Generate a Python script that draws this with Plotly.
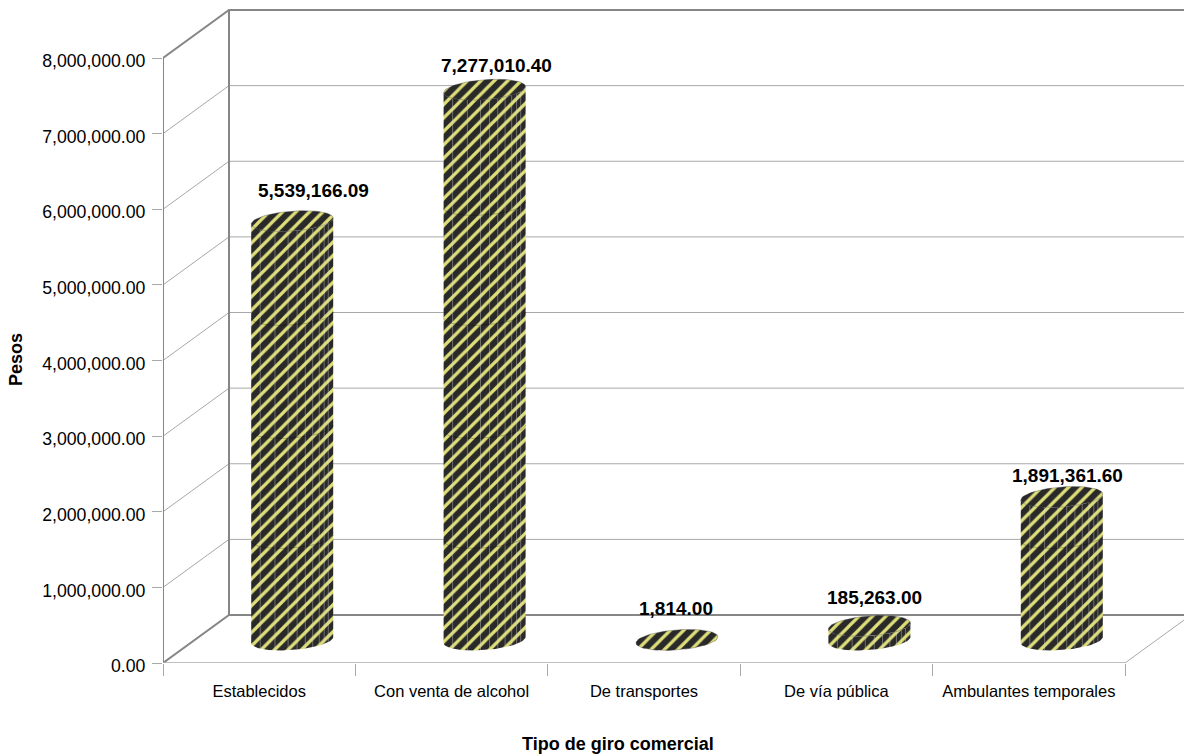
import numpy as np
import plotly.graph_objects as go

categories = ["Establecidos", "Con venta de alcohol", "De transportes", "De vía pública", "Ambulantes temporales"]
values = [5539166.09, 7277010.40, 1814.00, 185263.00, 1891361.60]
value_labels = ["5,539,166.09", "7,277,010.40", "1,814.00", "185,263.00", "1,891,361.60"]
y_ticks = [0, 1000000, 2000000, 3000000, 4000000, 5000000, 6000000, 7000000, 8000000]

# layout constants (pixels)
W, H = 1184, 754
L, T, B = 163, 9, 663
PX_PER_UNIT = 605 / 8000000
PX_PER_CAT = 192.4
DEPTH_X, DEPTH_Y = 66, 48
label_shift_x = [21, 12, -1, 5, 6]
label_shift_y = [31, 24, 31, 28, 21]
FG, BG = "#DEDE7A", "#292929"
WALL = "#868686"
GRID = "#A8A8A8"
# texture seams of the cylinder fill, in pixels above the cylinder base
seams_px = [102, 212, 325, 435]


def dxc(px):
    return px / PX_PER_CAT


def dyv(px):
    return px / PX_PER_UNIT


def P(cat, val, depth):
    return cat + dxc(DEPTH_X * depth), val + dyv(DEPTH_Y * depth)


fig = go.Figure()


def seg(points, color, width):
    xs, ys = zip(*points)
    fig.add_trace(go.Scatter(x=xs, y=ys, mode="lines", line=dict(color=color, width=width),
                             cliponaxis=False, hoverinfo="skip", showlegend=False))


x_left, x_right = -0.5, 4.5
for v in y_ticks[1:-1]:
    seg([P(x_left, v, 0), P(x_left, v, 1), P(x_right + 1, v, 1)], GRID, 1)
seg([P(x_left, 8000000, 0), P(x_left, 8000000, 1), P(x_right + 1, 8000000, 1)], WALL, 2)
seg([P(x_left, 0, 1), P(x_left, 8000000, 1)], WALL, 2)
seg([P(x_left, 0, 0), P(x_left, 0, 1), P(x_right + 1, 0, 1)], WALL, 2)
seg([P(x_left, 0, 0), P(x_left, 8000000, 0)], WALL, 2)
seg([P(x_left, 0, 0), P(x_right, 0, 0)], GRID, 1.5)
seg([P(x_right, 0, 0), P(x_right, 0, 0.9)], GRID, 1)

pattern = dict(shape="/", fgcolor=FG, bgcolor=BG, size=9.5, solidity=0.34, fillmode="replace")
A, E, SH = 41, 10, 3
t = np.linspace(0, 2 * np.pi, 73)
facets = [-0.78, -0.42, -0.1, 0.12, 0.32, 0.5, 0.66, 0.78, 0.88]

for i, v in enumerate(values):
    cx, cy = P(i, 0, 0.5)
    cy += dyv(-1)
    top = cy + v
    a1 = np.linspace(np.pi, 2 * np.pi, 37)
    ex = np.cos(a1)
    ey = np.sin(a1)
    bx = cx + dxc(A) * ex
    by = cy + dyv(E) * ey + dyv(SH) * ex
    tx = cx + dxc(A) * ex
    ty = top + dyv(E) * ey + dyv(SH) * ex
    fig.add_trace(go.Scatter(x=np.r_[bx, tx[::-1], bx[0]], y=np.r_[by, ty[::-1], by[0]], mode="lines",
                             fill="toself", fillpattern=pattern, fillcolor=BG, line=dict(width=0),
                             cliponaxis=False, hoverinfo="skip", showlegend=False))
    if v > 100000:
        for f in facets:
            arc = np.sqrt(1 - f * f)
            fx = cx + dxc(A) * f
            y0 = cy - dyv(E) * arc + dyv(SH) * f
            y1 = top - dyv(E) * arc + dyv(SH) * f
            fig.add_trace(go.Scatter(x=[fx, fx], y=[y0, y1], mode="lines",
                                     line=dict(color="rgba(215,215,215,0.4)", width=1),
                                     hoverinfo="skip", showlegend=False))
        for s in seams_px:
            if dyv(s) < v:
                fig.add_trace(go.Scatter(x=bx, y=by + dyv(s), mode="lines",
                                         line=dict(color="rgba(0,0,0,0.25)", width=1),
                                         hoverinfo="skip", showlegend=False))
    ex = np.cos(t)
    ey = np.sin(t)
    fig.add_trace(go.Scatter(x=cx + dxc(A) * ex, y=top + dyv(E) * ey + dyv(SH) * ex, mode="lines",
                             fill="toself", fillpattern=pattern, fillcolor=BG,
                             line=dict(width=0.5, color="rgba(60,60,60,0.7)"),
                             cliponaxis=False, hoverinfo="skip", showlegend=False))
    fig.add_annotation(x=cx, y=top, text="<b>" + value_labels[i] + "</b>", showarrow=False,
                       xshift=label_shift_x[i], yshift=label_shift_y[i],
                       font=dict(family="Liberation Sans", size=19, color="#000000"))

fig.add_annotation(xref="paper", yref="paper", x=(618 - L) / (W - L), y=(B - 744) / (B - T),
                   text="<b>Tipo de giro comercial</b>", showarrow=False, xanchor="center", yanchor="middle",
                   font=dict(size=18))
fig.add_annotation(xref="paper", yref="paper", x=(16 - L) / (W - L), y=(B - 360) / (B - T),
                   text="<b>Pesos</b>", showarrow=False, textangle=-90, xanchor="center", yanchor="middle",
                   font=dict(size=18))

fig.update_layout(
    width=W, height=H, paper_bgcolor="white", plot_bgcolor="white",
    margin=dict(l=L, r=0, t=T, b=H - B, pad=0, autoexpand=False),
    showlegend=False,
    font=dict(family="Liberation Sans", color="#000000", size=16),
    xaxis=dict(range=[x_left, x_left + (W - L) / PX_PER_CAT], tickmode="array", automargin=False,
               tickvals=list(range(5)), ticktext=categories, ticks="", showgrid=False,
               zeroline=False, showline=False, tickfont=dict(size=16.5), ticklabelstandoff=16,
               minor=dict(tickmode="array", tickvals=[i - 0.5 for i in range(6)], ticks="outside",
                          ticklen=12, tickwidth=1, tickcolor=GRID, showgrid=False)),
    yaxis=dict(range=[0, (B - T) / PX_PER_UNIT], tickmode="array", tickvals=y_ticks, automargin=False,
               tickformat=",.2f", ticks="outside", ticklen=10, tickwidth=1, tickcolor=GRID,
               showgrid=False, zeroline=False, showline=False, tickfont=dict(size=17.7),
               ticklabelstandoff=3, ticklabelshift=3),
)

fig.write_html("out.html", config=dict(displayModeBar=False), post_script="document.body.style.margin='0';")
